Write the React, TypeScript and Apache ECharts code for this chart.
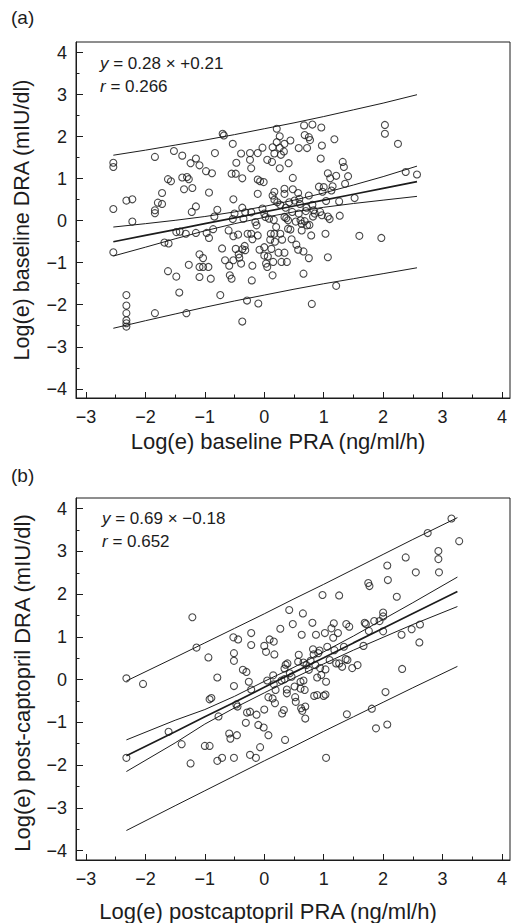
import React, { useEffect, useRef } from "react";
import * as echarts from "echarts";

// Panel (a): baseline PRA (x) vs baseline DRA (y), log(e) values
const aPoints: [number, number][] = [
  [-2.54, 1.38], [-2.54, 1.28], [-2.54, 0.28], [-2.54, -0.75],
  [-2.32, 0.48], [-2.32, -1.77], [-2.32, -2.02], [-2.32, -2.2], [-2.32, -2.37], [-2.32, -2.44], [-2.32, -2.52],
  [-2.22, 0.51], [-2.22, -0.02],
  [-1.84, 1.52], [-1.84, 0.25], [-1.84, 0.18], [-1.84, -2.2],
  [-1.79, 0.43], [-1.72, 0.4], [-1.72, 0.66],
  [-1.68, -0.52], [-1.61, -0.54], [-1.62, 0.99], [-1.57, 0.94], [-1.62, -1.2],
  [-1.52, 1.66], [-1.48, -1.33], [-1.48, -0.27], [-1.43, -1.71], [-1.42, -0.26],
  [-1.38, 1.55], [-1.38, 1.03], [-1.35, 0.75], [-1.32, -0.31], [-1.31, -2.2], [-1.3, 1.04], [-1.27, 0.99],
  [-1.27, -1.05], [-1.24, 1.37], [-1.22, 0.21], [-1.21, 0.78], [-1.15, 1.48], [-1.15, 0.34], [-1.15, -0.29],
  [-1.09, 1.32], [-1.09, -0.8], [-1.09, -1.34], [-1.09, -1.1], [-1.03, -0.89], [-1.03, -1.1], [-0.98, 1.18],
  [-0.97, -0.29], [-0.94, -1.1], [-0.93, 0.67], [-0.93, -0.41], [-0.9, -1.38], [-0.88, 1.13], [-0.86, -0.2],
  [-0.84, 0.1], [-0.83, 1.61], [-0.79, 0.26], [-0.74, -1.77], [-0.71, -0.66], [-0.7, 2.07], [-0.68, 2.03],
  [-0.66, -0.94], [-0.6, -0.23], [-0.59, -1.07], [-0.58, -1.3], [-0.55, -1.38], [-0.55, 1.12], [-0.53, 1.83],
  [-0.52, 0.51], [-0.53, 0.04], [-0.52, -0.37], [-0.52, -0.94], [-0.5, 0.17], [-0.48, 1.12], [-0.48, -0.67],
  [-0.47, 1.38], [-0.44, -0.33], [-0.43, -0.8], [-0.42, -0.88], [-0.39, 1.6], [-0.39, -1.02], [-0.37, 1.01],
  [-0.37, 0.31], [-0.37, -2.4], [-0.37, -0.68], [-0.35, 0.05], [-0.33, -0.6], [-0.32, 0.2], [-0.32, -0.7],
  [-0.29, -1.9], [-0.28, -0.31], [-0.24, 1.61], [-0.24, 1.45], [-0.22, 0.2], [-0.22, 1.25], [-0.22, -0.31],
  [-0.2, -0.44], [-0.21, -1.42], [-0.2, -1.07], [-0.15, -0.03], [-0.13, -0.11], [-0.11, 1.61], [-0.11, 0.98],
  [-0.11, 0.64], [-0.11, -0.35], [-0.1, -1.97], [-0.08, -0.69], [-0.07, 0.94], [-0.03, 1.74], [-0.03, 0.29],
  [-0.01, 0.92], [0, 0.17], [0, -0.63], [0, -0.83], [0.02, 0.09], [0.03, -1.02], [0.05, -1.1], [0.05, 1.45],
  [0.06, -0.85], [0.08, 0.05], [0.11, -0.31], [0.1, -0.45], [0.12, -0.67], [0.13, 1.4], [0.14, 0.6],
  [0.14, -1.3], [0.14, 1.75], [0.15, -0.98], [0.16, 0.02], [0.17, 1.6], [0.17, 0.69], [0.17, 0.5],
  [0.17, -0.31], [0.18, -0.5], [0.2, -0.15], [0.21, 2.19], [0.21, 1.87], [0.22, 0.44], [0.24, -0.76],
  [0.26, 2.01], [0.26, 1.25], [0.26, 1.74], [0.27, 0.38], [0.27, -0.31], [0.28, 1.57], [0.29, -0.98],
  [0.3, -0.45], [0.33, 1.65], [0.34, 1.83], [0.34, 0.76], [0.34, 0.64], [0.34, -0.76], [0.34, 0.09],
  [0.36, 0.31], [0.37, 0.06], [0.38, -0.98], [0.4, -0.19], [0.4, 0.01], [0.41, 1.37], [0.42, 0.44],
  [0.44, 1.91], [0.44, -0.21], [0.46, -0.44], [0.47, 0.21], [0.48, 1.02], [0.48, 0.75], [0.51, 0.48],
  [0.53, -0.02], [0.54, -0.57], [0.57, -0.69], [0.57, 0.66], [0.58, 1.73], [0.59, 0.52], [0.58, 0.17],
  [0.6, 0.4], [0.61, 0.01], [0.63, -0.23], [0.63, -0.07], [0.66, -1.26], [0.66, -0.73], [0.67, 2.27],
  [0.68, 2.04], [0.68, -0.01], [0.7, 0.23], [0.71, 0.31], [0.72, 1.73], [0.72, -0.11], [0.75, 1.99],
  [0.75, -0.89], [0.75, 0.6], [0.76, -0.1], [0.77, 1.92], [0.79, -0.35], [0.8, -1.98], [0.81, 2.29],
  [0.81, 0.38], [0.82, 0.1], [0.83, 0.25], [0.85, 0.17], [0.92, 0.81], [0.94, 0.21], [0.95, 1.48],
  [0.96, 2.22], [0.97, 1.79], [0.97, 0.13], [0.98, 0.69], [1.0, 0.8], [1.03, -0.31], [1.04, 0.47],
  [1.07, 1.13], [1.07, -0.87], [1.07, 0.1], [1.1, 0.04], [1.11, 1.01], [1.13, 0.72], [1.15, 0.82],
  [1.18, 1.94], [1.21, 1.07], [1.21, -1.55], [1.26, 0.46], [1.27, 0.12], [1.32, 1.4], [1.34, 1.28],
  [1.36, 0.88], [1.41, 1.06], [1.52, 0.54], [1.6, -0.36], [1.97, -0.41], [2.03, 2.28], [2.03, 2.07],
  [2.25, 1.83], [2.38, 1.16], [2.57, 1.1],
];

// Panel (a) fitted line and bands, read at these x positions
const aLineX = [-2.54, -2, -1.5, -1, -0.5, 0, 0.5, 1, 1.5, 2, 2.57];
const aFit = [-0.5, -0.35, -0.21, -0.07, 0.07, 0.21, 0.35, 0.49, 0.63, 0.77, 0.93];
const aCiUp = [-0.15, -0.07, 0.01, 0.1, 0.21, 0.34, 0.49, 0.66, 0.85, 1.05, 1.3];
const aCiLo = [-0.84, -0.63, -0.43, -0.24, -0.07, 0.08, 0.21, 0.32, 0.41, 0.49, 0.58];
const aPiUp = [1.56, 1.68, 1.8, 1.92, 2.05, 2.19, 2.33, 2.48, 2.64, 2.8, 3.0];
const aPiLo = [-2.56, -2.38, -2.22, -2.06, -1.91, -1.77, -1.63, -1.5, -1.38, -1.26, -1.12];

// Panel (b): post-captopril PRA (x) vs post-captopril DRA (y)
const bPoints: [number, number][] = [
  [-2.32, 0.03], [-2.32, -1.83], [-2.04, -0.1], [-1.61, -1.22], [-1.39, -1.51], [-1.24, -1.96], [-1.21, 1.46],
  [-1.14, 0.75], [-1.0, -1.55], [-0.94, 0.52], [-0.92, -1.55], [-0.92, -0.46], [-0.89, -0.43], [-0.79, 0.05],
  [-0.79, -1.9], [-0.77, -0.86], [-0.71, -1.83], [-0.59, -1.26], [-0.57, -1.38], [-0.52, 0.99], [-0.51, 0.62],
  [-0.51, 0.44], [-0.51, -0.15], [-0.51, -1.83], [-0.47, -0.58], [-0.46, -1.3], [-0.45, -0.63], [-0.44, 0.94],
  [-0.36, 0.23], [-0.31, -1.01], [-0.3, 0.18], [-0.29, -0.77], [-0.26, -0.05], [-0.24, -0.75], [-0.24, -1.76],
  [-0.22, 0.81], [-0.22, 1.09], [-0.22, -0.23], [-0.13, -0.82], [-0.14, -1.83], [-0.1, -1.06], [-0.07, -1.58],
  [-0.01, -1.12], [0, -0.7], [0, 0.79], [0.03, 0.65], [0.05, -0.02], [0.07, -0.41], [0.07, -1.3], [0.09, 0.94],
  [0.14, -0.44], [0.15, 0.1], [0.16, 0.89], [0.17, 0.59], [0.16, -0.11], [0.18, -0.55], [0.19, -0.24],
  [0.27, 1.19], [0.29, -0.02], [0.3, -0.79], [0.33, -0.71], [0.34, 0.26], [0.34, 0.01], [0.35, -1.41],
  [0.36, 0.35], [0.38, -0.23], [0.38, -0.32], [0.39, 0.38], [0.42, 1.63], [0.43, 0.15], [0.46, 0.07],
  [0.48, 1.3], [0.51, -0.16], [0.52, -0.41], [0.53, -0.52], [0.57, 0.42], [0.58, 0.58], [0.61, -0.05],
  [0.61, -0.21], [0.62, -0.67], [0.63, 1.05], [0.65, 1.55], [0.64, -0.73], [0.66, 0.4], [0.66, -0.02],
  [0.68, -0.24], [0.69, -0.91], [0.69, -0.63], [0.71, 0.34], [0.75, 0.23], [0.78, 0.44], [0.81, 1.33],
  [0.82, 0.71], [0.83, 0.59], [0.84, -0.38], [0.86, 0.34], [0.87, 1.05], [0.89, 0.05], [0.89, -0.36],
  [0.91, 0.62], [0.93, 0.68], [0.94, 0.27], [0.96, 0.11], [0.98, 1.98], [1.0, -0.38], [1.02, 1.09],
  [1.03, 0.24], [1.03, -0.35], [1.04, -1.83], [1.04, -0.05], [1.06, 0.77], [1.1, 0.46], [1.13, 1.2],
  [1.16, 0.98], [1.17, 1.32], [1.18, 0.69], [1.21, 0.38], [1.24, 1.09], [1.26, 1.97], [1.26, 0.38],
  [1.31, 0.3], [1.34, 0.77], [1.37, 0.48], [1.38, 1.3], [1.39, -0.81], [1.4, 0.46], [1.43, 1.24],
  [1.48, 0.27], [1.57, 0.34], [1.67, 0.79], [1.69, 1.33], [1.71, 1.3], [1.75, 2.26], [1.77, 2.19],
  [1.76, 1.14], [1.81, -0.68], [1.85, 1.37], [1.88, -1.14], [1.94, 1.37], [2.0, 1.57], [2.0, 1.48],
  [2.0, 1.13], [2.04, -0.29], [2.07, 2.67], [2.08, 2.33], [2.07, -1.05], [2.23, 1.94], [2.31, 1.05],
  [2.32, 0.25], [2.38, 2.86], [2.48, 1.18], [2.55, 2.51], [2.61, 0.87], [2.62, 1.29], [2.75, 3.43],
  [2.93, 3.01], [2.93, 2.82], [2.94, 2.51], [3.15, 3.77], [3.28, 3.24],
];

const bLineX = [-2.32, -1.5, -1, -0.5, 0, 0.5, 1, 1.5, 2, 2.5, 3.25];
const bFit = [-1.78, -1.22, -0.87, -0.53, -0.18, 0.17, 0.51, 0.86, 1.2, 1.55, 2.06];
const bCiUp = [-1.41, -0.95, -0.7, -0.39, -0.04, 0.29, 0.65, 1.02, 1.41, 1.8, 2.4];
const bCiLo = [-2.15, -1.48, -1.04, -0.66, -0.31, 0.04, 0.37, 0.69, 0.99, 1.29, 1.71];
const bPiUp = [-0.03, 0.52, 0.86, 1.2, 1.54, 1.89, 2.23, 2.58, 2.93, 3.28, 3.79];
const bPiLo = [-3.53, -2.95, -2.6, -2.25, -1.9, -1.56, -1.21, -0.87, -0.53, -0.19, 0.31];

const xMajorTicks = [-3, -2, -1, 0, 1, 2, 3, 4];
const xMinorTicks = [-2.5, -1.5, -0.5, 0.5, 1.5, 2.5, 3.5];
const yMajorTicks = [-4, -3, -2, -1, 0, 1, 2, 3, 4];
const yMinorTicks = [-3.5, -2.5, -1.5, -0.5, 0.5, 1.5, 2.5, 3.5];

const FONT = "'Liberation Sans', Arial, Helvetica, sans-serif";
const INK = "#1c1c1c";

const fmt = (v: number) => (v < 0 ? "\u2212" + Math.abs(v) : String(v));
const zip = (xs: number[], ys: number[]) => xs.map((x, i) => [x, ys[i]]);

function axisPair(kind: "x" | "y", gridIndex: number, min: number, max: number) {
  const majors = kind === "x" ? xMajorTicks : yMajorTicks;
  const minors = kind === "x" ? xMinorTicks : yMinorTicks;
  const majorLen = kind === "x" ? 6 : 7;
  return [
    {
      gridIndex,
      type: "value",
      min,
      max,
      position: kind === "x" ? "bottom" : "left",
      axisLine: { show: true, onZero: false, lineStyle: { color: INK, width: 1 } },
      axisTick: { show: true, inside: true, length: majorLen, customValues: majors, lineStyle: { color: INK, width: 1 } },
      axisLabel: {
        show: true,
        customValues: majors,
        formatter: fmt,
        fontSize: 18,
        color: INK,
        fontFamily: FONT,
        margin: kind === "x" ? 10 : 9,
      },
      splitLine: { show: false },
    },
    {
      gridIndex,
      type: "value",
      min,
      max,
      position: kind === "x" ? "bottom" : "left",
      offset: 0,
      axisLine: { show: false, onZero: false },
      axisTick: { show: true, inside: true, length: 3.5, customValues: minors, lineStyle: { color: INK, width: 1 } },
      axisLabel: { show: false },
      splitLine: { show: false },
    },
  ];
}

function lineSeries(xi: number, yi: number, data: number[][], width: number) {
  return {
    type: "line",
    xAxisIndex: xi,
    yAxisIndex: yi,
    data,
    showSymbol: false,
    symbol: "none",
    silent: true,
    lineStyle: { color: INK, width },
    z: 3,
  };
}

function scatterSeries(xi: number, yi: number, data: number[][]) {
  return {
    type: "scatter",
    xAxisIndex: xi,
    yAxisIndex: yi,
    data,
    symbol: "circle",
    symbolSize: 7,
    itemStyle: { color: "rgba(255,255,255,0)", borderColor: INK, borderWidth: 1.1 },
    z: 4,
  };
}

export default function App() {
  const ref = useRef<HTMLDivElement>(null);

  useEffect(() => {
    if (!ref.current) return;
    const chart = echarts.init(ref.current, null, { renderer: "svg" });
    const XMIN = -3.168;
    const XMAX = 4.135;
    const gridStyle = { show: true, borderColor: INK, borderWidth: 1, backgroundColor: "transparent" };

    const italic = { i: { fontStyle: "italic", fontSize: 17, fontFamily: FONT, fill: INK } };

    const option: any = {
      animation: false,
      backgroundColor: "#ffffff",
      grid: [
        { left: 76, top: 42, width: 434, height: 356, ...gridStyle },
        { left: 76, top: 498, width: 434, height: 362, ...gridStyle },
      ],
      xAxis: [...axisPair("x", 0, XMIN, XMAX), ...axisPair("x", 1, XMIN, XMAX)],
      yAxis: [...axisPair("y", 0, -4.22, 4.255), ...axisPair("y", 1, -4.22, 4.25)],
      series: [
        lineSeries(0, 0, zip(aLineX, aPiUp), 1),
        lineSeries(0, 0, zip(aLineX, aPiLo), 1),
        lineSeries(0, 0, zip(aLineX, aCiUp), 1),
        lineSeries(0, 0, zip(aLineX, aCiLo), 1),
        lineSeries(0, 0, zip(aLineX, aFit), 1.7),
        scatterSeries(0, 0, aPoints),
        lineSeries(2, 2, zip(bLineX, bPiUp), 1),
        lineSeries(2, 2, zip(bLineX, bPiLo), 1),
        lineSeries(2, 2, zip(bLineX, bCiUp), 1),
        lineSeries(2, 2, zip(bLineX, bCiLo), 1),
        lineSeries(2, 2, zip(bLineX, bFit), 1.7),
        scatterSeries(2, 2, bPoints),
      ],
      graphic: [
        { type: "text", left: 11, top: 8, style: { text: "(a)", fontSize: 19, fontFamily: FONT, fill: INK } },
        { type: "text", left: 11, top: 466, style: { text: "(b)", fontSize: 19, fontFamily: FONT, fill: INK } },
        {
          type: "text",
          x: 22,
          y: 220,
          rotation: Math.PI / 2,
          style: {
            text: "Log(e) baseline DRA (mIU/dl)",
            fontSize: 21.5,
            fontFamily: FONT,
            fill: INK,
            align: "center",
            verticalAlign: "middle",
          },
        },
        {
          type: "text",
          x: 278,
          y: 441,
          style: {
            text: "Log(e) baseline PRA (ng/ml/h)",
            fontSize: 22,
            fontFamily: FONT,
            fill: INK,
            align: "center",
            verticalAlign: "middle",
          },
        },
        {
          type: "text",
          x: 22,
          y: 683,
          rotation: Math.PI / 2,
          style: {
            text: "Log(e) post-captopril DRA (mIU/dl)",
            fontSize: 22,
            fontFamily: FONT,
            fill: INK,
            align: "center",
            verticalAlign: "middle",
          },
        },
        {
          type: "text",
          x: 268,
          y: 911,
          style: {
            text: "Log(e) postcaptopril PRA (ng/ml/h)",
            fontSize: 22,
            fontFamily: FONT,
            fill: INK,
            align: "center",
            verticalAlign: "middle",
          },
        },
        {
          type: "text",
          x: 100,
          y: 63,
          style: {
            text: "{i|y} = 0.28 \u00d7 +0.21",
            fontSize: 17,
            fontFamily: FONT,
            fill: INK,
            verticalAlign: "middle",
            rich: italic,
          },
        },
        {
          type: "text",
          x: 100,
          y: 86,
          style: {
            text: "{i|r} = 0.266",
            fontSize: 17,
            fontFamily: FONT,
            fill: INK,
            verticalAlign: "middle",
            rich: italic,
          },
        },
        {
          type: "text",
          x: 102,
          y: 518,
          style: {
            text: "{i|y} = 0.69 \u00d7 \u22120.18",
            fontSize: 17,
            fontFamily: FONT,
            fill: INK,
            verticalAlign: "middle",
            rich: italic,
          },
        },
        {
          type: "text",
          x: 102,
          y: 541,
          style: {
            text: "{i|r} = 0.652",
            fontSize: 17,
            fontFamily: FONT,
            fill: INK,
            verticalAlign: "middle",
            rich: italic,
          },
        },
      ],
    };

    chart.setOption(option);
    return () => chart.dispose();
  }, []);

  return (
    <div
      ref={ref}
      style={{ position: "absolute", left: 0, top: 0, width: 511, height: 923, background: "#fff" }}
    />
  );
}
